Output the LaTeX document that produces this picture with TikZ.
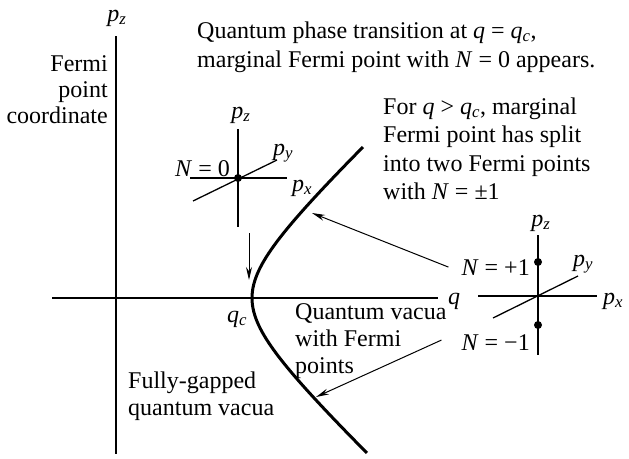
\documentclass[tikz,border=0pt]{standalone}
\usepackage{amsmath}
\usepackage{fontspec}
\setmainfont{Liberation Serif}
\usetikzlibrary{arrows.meta}
\newcommand{\mi}[1]{\textit{#1}}
\newcommand{\sbi}[1]{$_{\textit{#1}}$}
\begin{document}
\begin{tikzpicture}[x=1pt,y=-1pt,
  txt/.style={inner sep=0pt, font=\fontsize{24}{27}\selectfont},
  axisline/.style={line width=1.3pt},
  arr/.style={line width=1pt,-{Stealth[length=13pt,width=6pt]}},
  fdot/.style={circle,fill,inner sep=0pt,minimum size=8pt}]
\useasboundingbox (0,0) rectangle (629,458);

% main axes
\coordinate (vtop) at (116,36);
\coordinate (vbot) at (116,454);
\coordinate (hl) at (52,298);
\coordinate (hr) at (438,298);
\draw[axisline] (vtop) -- (vbot);
\draw[axisline] (hl) -- (hr);
\node[txt,anchor=base] (pzmain) at (117,21) {\mi{p}\sbi{z}};
\node[txt,anchor=base west] (qlab) at (448,304) {\mi{q}};
\node[txt,anchor=base] (qc) at (237,322) {\mi{q}\sbi{c}};

% hyperbola
\draw[line width=3pt] plot[domain=-151:155,samples=90,smooth]
  ({252+1.05*(10*sqrt(30.25+(\x/10)^2)-55)},{298+\x});

% left-hand texts
\node[txt,anchor=base east] (t1) at (108,71) {Fermi};
\node[txt,anchor=base east] (t2) at (108,97) {point};
\node[txt,anchor=base east] (t3) at (108,123) {coordinate};

\node[txt,anchor=base west] (top1) at (197,38) {Quantum phase transition at \mi{q} = \mi{q}\sbi{c},};
\node[txt,anchor=base west] (top2) at (197,67) {marginal Fermi point with \mi{N} = 0 appears.};

\node[txt,anchor=base west] (f1) at (383,114) {For \mi{q} > \mi{q}\sbi{c}, marginal};
\node[txt,anchor=base west] (f2) at (383,142) {Fermi point has split};
\node[txt,anchor=base west] (f3) at (383,171) {into two Fermi points};
\node[txt,anchor=base west] (f4) at (383,199) {with \mi{N} = ±1};

\node[txt,anchor=base west] (v1) at (295,319) {Quantum vacua};
\node[txt,anchor=base west] (v2) at (295,346) {with Fermi};
\node[txt,anchor=base west] (v3) at (295,373) {points};

\node[txt,anchor=base west] (g1) at (128,388) {Fully-gapped};
\node[txt,anchor=base west] (g2) at (128,415) {quantum vacua};

% small axes, top left
\coordinate (a1vt) at (238,129);
\coordinate (a1vb) at (238,227);
\coordinate (a1hl) at (190,178);
\coordinate (a1hr) at (287,178);
\coordinate (a1dl) at (193,201);
\coordinate (a1dr) at (277,160);
\draw[axisline] (a1vt) -- (a1vb);
\draw[axisline] (a1hl) -- (a1hr);
\draw[axisline] (a1dl) -- (a1dr);
\node[fdot] (d0) at (238,178) {};
\node[txt,anchor=base] (a1pz) at (241,118) {\mi{p}\sbi{z}};
\node[txt,anchor=base west] (a1py) at (273,155) {\mi{p}\sbi{y}};
\node[txt,anchor=base west] (a1px) at (292,191) {\mi{p}\sbi{x}};
\node[txt,anchor=base east] (n0) at (230,176) {\mi{N} = 0};

% small axes, right
\coordinate (a2vt) at (538,235);
\coordinate (a2vb) at (538,355);
\coordinate (a2hl) at (478,296);
\coordinate (a2hr) at (597,296);
\coordinate (a2dl) at (493,318);
\coordinate (a2dr) at (578,276);
\draw[axisline] (a2vt) -- (a2vb);
\draw[axisline] (a2hl) -- (a2hr);
\draw[axisline] (a2dl) -- (a2dr);
\node[fdot] (dp) at (538,262) {};
\node[fdot] (dm) at (538,325) {};
\node[txt,anchor=base] (a2pz) at (541,226) {\mi{p}\sbi{z}};
\node[txt,anchor=base west] (a2py) at (573,266) {\mi{p}\sbi{y}};
\node[txt,anchor=base west] (a2px) at (603,304) {\mi{p}\sbi{x}};
\node[txt,anchor=base east] (np1) at (530,275) {\mi{N} = +1};
\node[txt,anchor=base east] (nm1) at (530,350) {\mi{N} = −1};

% arrows
\coordinate (tipup) at (312,213);
\coordinate (tiplow) at (316,397);
\coordinate (dstart) at (249,233);
\coordinate (dtip) at (249,280);
\draw[arr] ([xshift=-13pt]np1.west) -- (tipup);
\draw[arr] ([xshift=-20pt,yshift=2pt]nm1.west) -- (tiplow);
\draw[arr] (dstart) -- (dtip);
\end{tikzpicture}
\end{document}
